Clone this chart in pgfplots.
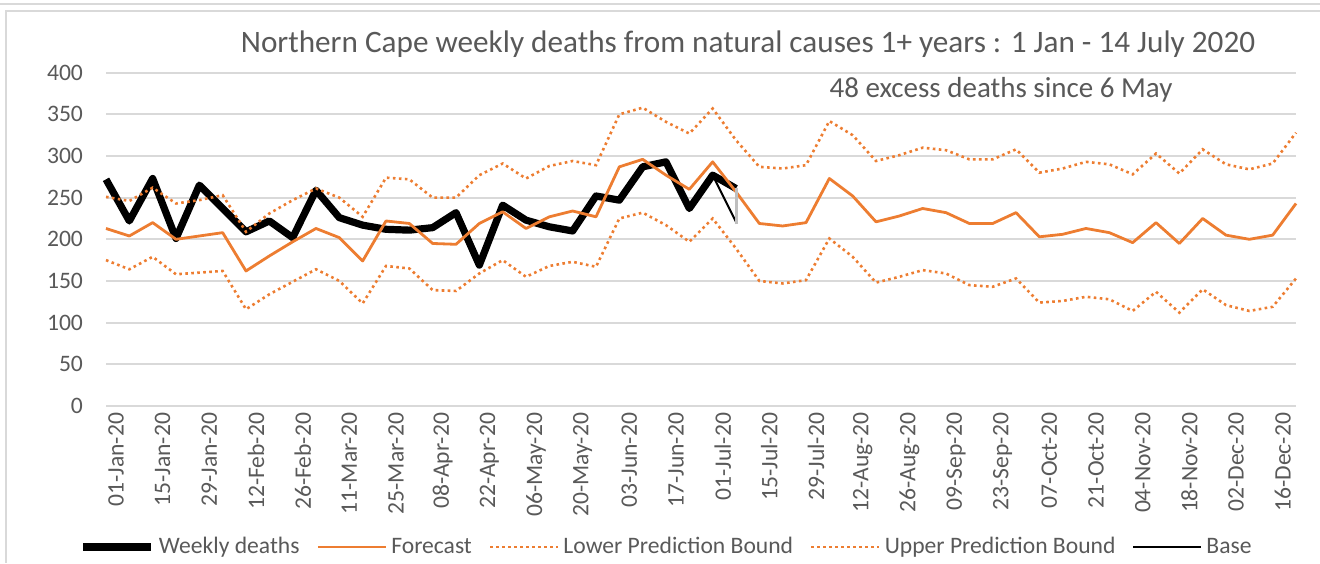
\documentclass[border=0pt]{standalone}
\usepackage{pgfplots}
\pgfplotsset{compat=1.18}
\usepackage{pgfplotstable}
\usepackage{fontspec}
\setmainfont{Carlito}
\definecolor{xlorange}{HTML}{ED7D31}
\definecolor{gridgray}{HTML}{D9D9D9}
\definecolor{txtgray}{HTML}{595959}
\definecolor{basegray}{HTML}{BFBFBF}

\pgfplotstableread{
i v
0 272
1 222
2 273
3 201
4 265
5 237
6 209
7 222
8 202
9 259
10 226
11 217
12 212
13 211
14 214
15 232
16 169
17 241
18 223
19 215
20 210
21 252
22 247
23 287
24 293
25 237
26 277
27 261
}\deaths

\pgfplotstableread{
i fc lo up
0 213 175 251
1 204 164 246
2 220 179 262
3 200 158 243
4 204 160 247
5 208 162 253
6 162 116 209
7 180 134 231
8 197 149 247
9 213 164 261
10 202 150 250
11 174 123 227
12 222 168 274
13 219 165 272
14 195 139 250
15 194 138 250
16 219 159 277
17 233 175 291
18 213 155 273
19 227 168 288
20 234 173 294
21 227 167 289
22 287 225 350
23 296 232 358
24 277 217 341
25 260 197 327
26 293 225 357
27 257 189 319
28 219 150 287
29 216 147 285
30 220 151 289
31 273 201 342
32 252 179 325
33 221 148 294
34 228 155 301
35 237 163 310
36 232 159 307
37 219 145 296
38 219 143 296
39 232 153 308
40 203 124 280
41 206 126 285
42 213 131 293
43 208 128 290
44 196 114 278
45 220 137 303
46 195 112 279
47 225 140 308
48 205 121 290
49 200 114 284
50 205 119 291
51 243 153 328
}\forecast

\begin{document}
\begin{tikzpicture}
\useasboundingbox (0,0) rectangle (660pt,281.5pt);
\draw[gridgray, line width=0.8pt] (0,279.5pt) -- (660pt,279.5pt);
\draw[gridgray, line width=0.8pt] (660pt,276pt) -- (3pt,276pt) -- (3pt,0);
\begin{axis}[
  at={(53pt,78.55pt)}, anchor=south west,
  scale only axis, width=595pt, height=166.6pt,
  xmin=0, xmax=51, ymin=0, ymax=400,
  clip=false,
  axis line style={draw=none},
  major tick style={draw=none},
  ytick={0,50,...,400},
  ymajorgrids,
  grid style={line width=1pt, color=gridgray},
  xtick={0,2,...,50},
  xticklabels={01-Jan-20,15-Jan-20,29-Jan-20,12-Feb-20,26-Feb-20,11-Mar-20,25-Mar-20,08-Apr-20,22-Apr-20,06-May-20,20-May-20,03-Jun-20,17-Jun-20,01-Jul-20,15-Jul-20,29-Jul-20,12-Aug-20,26-Aug-20,09-Sep-20,23-Sep-20,07-Oct-20,21-Oct-20,04-Nov-20,18-Nov-20,02-Dec-20,16-Dec-20},
  ticklabel style={font=\fontsize{11.8pt}{14pt}\selectfont, text=txtgray},
  x tick label style={rotate=90, anchor=east, yshift=-5pt},
  y tick label style={xshift=-8pt},
  /pgf/number format/assume math mode=true,
  legend columns=5,
  legend style={at={(0.472,-0.4235)}, anchor=center, draw=none, fill=none,
    font=\fontsize{11.8pt}{14pt}\selectfont, text=txtgray,
    /tikz/every even column/.append style={column sep=6.5pt},
    inner sep=0pt},
  legend cell align=left,
  legend image code/.code={\draw[#1] (0pt,0pt) -- (34pt,0pt);},
]
\addplot[black, line width=3.6pt, line join=round] table[x=i,y=v]{\deaths};
\addlegendentry{Weekly deaths}
\addplot[xlorange, line width=1.4pt, line join=round] table[x=i,y=fc]{\forecast};
\addlegendentry{Forecast}
\addplot[xlorange, line width=1.3pt, dash pattern=on 1.3pt off 1.7pt] table[x=i,y=lo]{\forecast};
\addlegendentry{Lower Prediction Bound}
\addplot[xlorange, line width=1.3pt, dash pattern=on 1.3pt off 1.7pt] table[x=i,y=up]{\forecast};
\addlegendentry{Upper Prediction Bound}
\addplot[black, line width=1pt] coordinates {(26,277) (27,221)};
\addlegendentry{Base}
\addplot[basegray, line width=1.5pt, forget plot] coordinates {(27,218) (27,261)};
\end{axis}
\node[text=txtgray, font=\fontsize{15.6pt}{18pt}\selectfont] at (374pt,259.5pt) {Northern Cape weekly deaths from natural causes 1+ years : 1 Jan - 14 July 2020};
\node[text=txtgray, font=\fontsize{14.5pt}{17pt}\selectfont] at (500.5pt,236.5pt) {48 excess deaths since 6 May};
\end{tikzpicture}
\end{document}
